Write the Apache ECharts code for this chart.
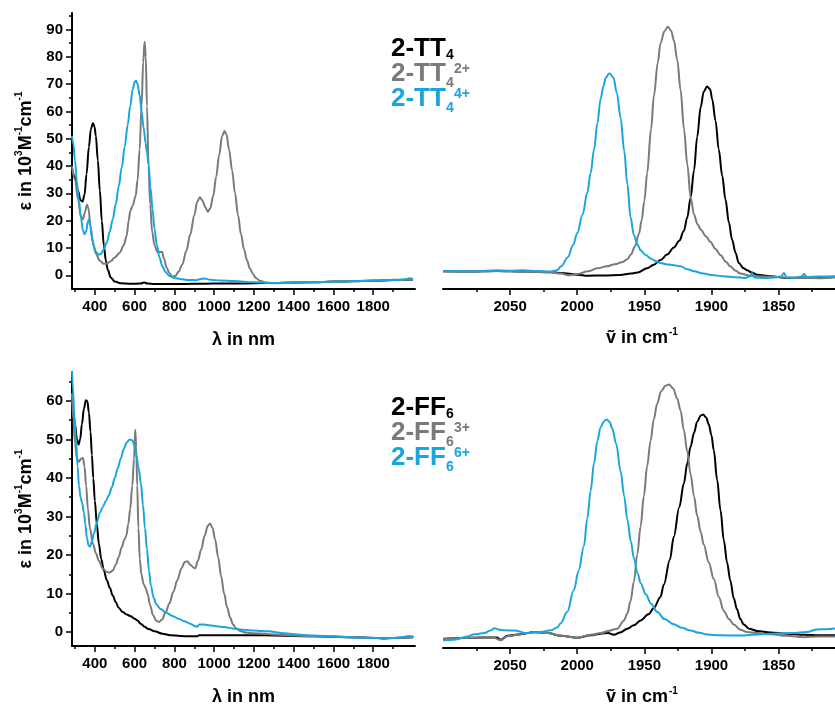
<!DOCTYPE html>
<html><head><meta charset="utf-8">
<script src="https://cdn.jsdelivr.net/npm/echarts@6/dist/echarts.min.js"></script>
<style>html,body{margin:0;padding:0;background:#fff}#c{width:835px;height:707px}</style>
</head><body><div id="c"></div>
<script>
// ---------- DATA ----------
// UV-vis-NIR, 2-TT4 family: [wavelength nm, epsilon 10^3 M^-1 cm^-1]
const tt4_uv = [[285,39],[300,36],[315,31],[328,27.5],[338,27],[348,29.5],[358,37],[370,47],[380,53.5],[390,55.7],[398,54.5],[405,51],[415,42],[425,31],[435,20],[445,11],[455,5.5],[465,2],[480,-0.8],[500,-2.3],[530,-2.9],[580,-3.1],[630,-3],[648,-2.6],[665,-3],[700,-3.2],[800,-3.2],[900,-3.1],[1000,-3],[1100,-3],[1200,-2.9],[1300,-2.8],[1400,-2.65],[1500,-2.5],[1600,-2.3],[1700,-2.15],[1800,-1.95],[1900,-1.75],[2000,-1.5]];
const tt4_2p_uv = [[285,40],[300,35],[315,28],[330,21.5],[340,20.5],[350,23],[360,25.8],[368,24.5],[378,18],[390,12],[405,8],[425,5.3],[445,4.2],[460,4.3],[480,5.2],[500,6.5],[525,8.3],[545,11],[560,14.5],[570,20],[578,23.5],[590,25.5],[605,29],[615,35],[625,46],[635,62],[643,78],[650,85.5],[656,80],[662,62],[670,40],[678,26],[688,16],[700,11],[715,8.5],[728,8.5],[738,8.6],[748,6],[760,3],[775,0.8],[790,-0.5],[805,-0.2],[820,1.2],[840,4],[860,9],[880,15],[900,22],[915,27],[928,28.6],[940,27.5],[955,25],[968,23.3],[980,24.5],[995,29],[1010,36],[1025,44],[1040,51],[1052,52.8],[1062,51.5],[1075,46],[1090,38.5],[1105,30],[1120,22],[1135,15],[1150,9.5],[1165,5.5],[1180,2.5],[1195,0.5],[1210,-1],[1230,-2],[1260,-2.7],[1300,-2.9],[1400,-2.7],[1500,-2.5],[1600,-2.3],[1700,-2.1],[1800,-1.9],[1900,-1.7],[2000,-1.5]];
const tt4_4p_uv = [[285,51],[292,48],[300,42],[310,34],[320,27],[330,21],[340,16.5],[348,15],[356,16],[364,19.5],[370,20.5],[377,18],[385,14],[395,10.5],[405,8.6],[418,7.6],[430,7.8],[445,9.5],[460,12],[475,16],[490,20.5],[505,26],[520,32.5],[535,39.5],[550,47],[565,55],[578,62],[590,68],[600,70.8],[607,71.2],[615,70],[625,66],[635,60],[645,54],[655,48.5],[662,45],[670,40.5],[680,32],[690,24],[700,17],[712,11],[725,6.5],[740,3.2],[755,1.2],[775,-0.2],[800,-1],[830,-1.3],[870,-1.7],[910,-1.8],[930,-1.3],[950,-1.2],[980,-1.6],[1030,-1.9],[1100,-2.1],[1200,-2.5],[1300,-2.8],[1400,-2.6],[1450,-2.55],[1500,-2.45],[1550,-2.4],[1600,-2.25],[1650,-2.25],[1700,-2.05],[1750,-2.05],[1800,-1.85],[1850,-1.85],[1900,-1.65],[1950,-1.5],[1985,-1.1],[2000,-1.4]];

// UV-vis-NIR, 2-FF6 family
const ff6_uv = [[285,60],[292,57],[300,54],[310,50],[318,48.7],[326,50],[335,54],[345,58],[355,60.2],[362,60],[370,57],[378,52],[385,46],[392,40],[400,34],[410,28],[420,23],[432,19],[445,16],[460,13.5],[475,11.5],[490,9.5],[505,7.8],[520,6.3],[540,5.2],[560,4.6],[580,4.1],[600,3.5],[615,3],[630,2.2],[650,1.4],[670,0.8],[700,0.2],[740,-0.4],[780,-0.8],[830,-1.0],[880,-1.1],[915,-1.1],[925,-0.8],[960,-0.8],[1000,-0.8],[1100,-0.8],[1200,-0.8],[1300,-0.85],[1400,-1.0],[1500,-1.1],[1600,-1.2],[1700,-1.35],[1800,-1.5],[1900,-1.5],[2000,-1.3]];
const ff6_3p_uv = [[285,62],[292,55],[300,49],[310,45],[320,44.2],[330,45],[340,45.2],[348,43],[356,38],[365,32],[375,27],[390,23],[405,20.5],[420,18.5],[440,16.5],[460,15.6],[475,15.5],[490,16],[505,17.5],[520,19.5],[535,22],[548,24],[558,25],[568,28],[578,32],[588,38],[597,45],[603,52.5],[608,48],[613,38],[619,27],[626,19],[634,15],[645,12.5],[655,11.5],[665,10],[678,7],[692,4.5],[708,3],[722,2.6],[738,3.3],[755,5],[775,7.5],[795,10.5],[815,13.5],[835,16.5],[852,18.2],[865,18.4],[880,17.5],[895,16.8],[905,16.6],[918,18.5],[935,21.5],[952,25],[968,27.6],[980,28.2],[992,27],[1005,24],[1020,19.5],[1035,14.5],[1050,10],[1065,6.5],[1080,3.8],[1095,2],[1110,1],[1130,0.3],[1160,-0.1],[1200,-0.3],[1300,-0.6],[1400,-0.9],[1500,-1.1],[1600,-1.2],[1700,-1.4],[1800,-1.5],[1900,-1.5],[2000,-1.3]];
const ff6_6p_uv = [[285,68],[290,63],[297,56],[305,50],[313,43],[320,38],[328,35],[336,33.5],[345,31],[352,28],[360,24.5],[368,22.5],[376,22.2],[385,23.5],[395,25.5],[410,28.5],[425,31],[440,32.5],[455,34],[470,35.5],[485,37.5],[500,40],[515,42.5],[530,45],[545,47.5],[560,49.2],[575,50],[588,49.8],[598,48.5],[608,46],[620,42.5],[632,38.5],[642,33],[652,27],[662,21.5],[672,16],[682,12],[695,9],[710,7.2],[730,6],[760,5],[790,4.2],[820,3.5],[850,2.8],[880,2.2],[905,1.5],[915,1.4],[925,2],[945,2],[970,1.8],[1000,1.6],[1050,1.3],[1100,0.9],[1150,0.6],[1200,0.4],[1270,0.2],[1350,-0.3],[1435,-0.7],[1500,-0.9],[1600,-1.1],[1700,-1.3],[1770,-1.5],[1800,-1.45],[1850,-1.8],[1900,-1.5],[1950,-1.3],[1980,-1.0],[2005,-1.2]];

// IR, 2-TT4 family: [wavenumber cm^-1, absorbance (arb.)]
const tt4_ir = [[2100,6.4],[2080,6.3],[2060,6.5],[2040,6.3],[2020,6.2],[2012,5.8],[2000,5.2],[1992,4.8],[1980,4.9],[1968,5.1],[1960,5.6],[1955,6],[1948,7.5],[1943,8.8],[1938,10.5],[1933,12.5],[1928,15],[1924,17.5],[1920.6,21],[1918,26],[1915.6,33],[1913,43],[1910.7,55],[1908,66],[1905.8,71.5],[1903.3,73.4],[1901,72.4],[1899.5,68.8],[1897,61],[1894.6,50.6],[1892,41],[1889.6,32.4],[1887,24],[1884.7,17.9],[1882,13],[1879.7,9.4],[1876,7.5],[1873.5,6.8],[1870,6],[1866,5.2],[1856,4.6],[1844,4.0],[1830,4.2],[1820,4.0],[1808,4.4]];
const tt4_2p_ir = [[2100,6.4],[2080,6.3],[2060,6.5],[2040,6.3],[2020,6.0],[2012,5.6],[2007,5.0],[2000,5.4],[1992,6.4],[1985,7.5],[1978,8.2],[1972,9],[1966,9.8],[1962.7,10.8],[1960,12.5],[1957,15.5],[1954,20],[1952,25],[1950,32],[1947.9,42],[1945,58],[1942.9,70],[1940,82],[1938,89],[1935,93.5],[1932.5,95],[1930,93.5],[1928,90],[1925.5,83],[1923,72],[1920.5,58],[1918,45],[1915.5,33],[1913,27],[1910.5,23.5],[1908,21.5],[1904,19],[1900.8,17],[1897,14.5],[1893.3,12.3],[1889.5,10],[1886,8.2],[1882,6.6],[1878.5,5.6],[1872,4.9],[1866,4.6],[1856,4.4],[1844,4.1],[1830,4.0],[1820,3.9],[1808,4.2]];
const tt4_4p_ir = [[2100,6.4],[2090,6.5],[2075,6.4],[2060,6.8],[2050,6.6],[2040,6.8],[2030,6.5],[2020,6.3],[2015,6.8],[2012,8.2],[2007,11.5],[2003,16],[2000,20.3],[1996,27],[1992.5,34.9],[1990,42],[1987.5,50.6],[1985,60],[1982.6,68.8],[1980.5,73.5],[1978.8,76.5],[1976,78.2],[1973,76.5],[1970.5,71],[1967.7,62],[1965,50],[1962.7,38],[1960.3,26],[1957.8,19.5],[1955,16],[1952.8,14],[1949,12.3],[1945,11],[1941,10],[1938,9.4],[1933,8.9],[1928,8.6],[1923,8.2],[1918,7.2],[1913,6.4],[1906,5.6],[1900,5.1],[1891,4.6],[1883,4.3],[1875,4.0],[1871,4.6],[1869.8,5.8],[1868,4.2],[1860,4.0],[1853,4.2],[1848,4.6],[1846,5.8],[1844,4.2],[1838,4.1],[1833,4.5],[1831,5.4],[1829,4.3],[1820,4.5],[1808,4.6]];

// IR, 2-FF6 family
const ff6_ir = [[2100,3.2],[2085,3.6],[2070,3.8],[2060,3.8],[2057,3.0],[2052,4.4],[2042,5.0],[2032,5.8],[2022,5.4],[2012,4.4],[2000,3.7],[1990,4.6],[1982.6,5.2],[1977,5.4],[1972.7,4.8],[1968,5.6],[1962.7,7],[1957.8,8.2],[1952.8,10],[1947,12.2],[1942.9,14.5],[1938,18.5],[1935.5,23],[1931,32],[1928.1,40.3],[1924,51],[1920.6,59.6],[1918,67],[1915.6,72.9],[1913,78],[1910.7,82],[1908,84.2],[1906.2,84.6],[1904,83.5],[1902,81],[1900,77],[1898.3,71.7],[1895.8,61],[1893.3,49.9],[1890.8,39],[1888.4,31],[1886,24.5],[1883.4,18],[1881,14],[1878.5,10.5],[1876,8.5],[1872,7],[1866,6.2],[1856,5.6],[1844,5.2],[1831,4.8],[1820,4.6],[1808,4.6]];
const ff6_3p_ir = [[2100,3.4],[2085,3.6],[2070,3.8],[2062,3.7],[2057,2.8],[2052,4.3],[2042,5.0],[2032,5.8],[2022,5.4],[2012,4.4],[2000,3.7],[1990,4.8],[1982.6,5.4],[1977,6.2],[1970.2,7.0],[1965.2,10],[1962.7,12.5],[1960.3,17],[1957.8,24],[1955.3,34],[1952.8,44],[1950.4,55],[1947.9,66],[1945.4,75],[1942.9,83],[1940.5,88.5],[1937.5,93],[1934.3,95],[1931.5,95.5],[1928.5,94],[1925.6,90.5],[1923,86],[1920.6,79],[1918,71],[1915.6,63],[1913,55],[1910.7,48],[1908,42],[1905.8,37.5],[1902,31],[1898.3,25],[1894.5,18.5],[1890.9,13.5],[1887,10.5],[1883.4,8.5],[1878.5,6.6],[1873.5,5.8],[1866,5.4],[1856,5.0],[1844,4.4],[1831,3.9],[1820,4.2],[1808,4.2]];
const ff6_6p_ir = [[2100,2.8],[2091.6,3.0],[2081.7,4.2],[2076.7,5.0],[2069.3,5.4],[2064,6.4],[2061.8,7.2],[2058,6.6],[2054.5,6.4],[2047,6.3],[2037,5.4],[2027.2,5.8],[2019.7,6.4],[2015,7.4],[2012.3,9.0],[2007.5,13],[2002.5,21],[1999,28],[1995,37],[1992.5,47],[1990,57],[1987.5,67],[1985,75],[1982.6,80],[1980,82.2],[1978.1,82.8],[1976,82],[1973.9,79.5],[1971,74],[1967.7,64],[1965,55],[1962.7,46.5],[1960,38.5],[1957.8,32.5],[1955,27],[1952.8,23.5],[1949,19.5],[1945,16],[1940.3,13],[1935,10.5],[1928,8.6],[1922,7.3],[1915.6,6.3],[1909,5.5],[1903.2,4.9],[1893.3,4.6],[1878.5,4.5],[1866,4.9],[1853.7,5.2],[1840,5.4],[1828.9,5.8],[1821.5,6.7],[1815,6.8],[1808,7.1]];

// Tick values
const uvMajor = [400,600,800,1000,1200,1400,1600,1800];
const uvMinor = [300,500,700,900,1100,1300,1500,1700,1900];
const irMajor = [2050,2000,1950,1900,1850];
const irMinor = [2075,2025,1975,1925,1875,1825];
const ttYMajor = [0,10,20,30,40,50,60,70,80,90];
const ttYMinor = [5,15,25,35,45,55,65,75,85,95];
const ffYMajor = [0,10,20,30,40,50,60];
const ffYMinor = [5,15,25,35,45,55,65];

const seriesNames = ['2-TT4','2-TT4 2+','2-TT4 4+','2-FF6','2-FF6 3+','2-FF6 6+'];
// ---------- STYLE ----------
const FONT = '"Liberation Sans", Arial, sans-serif';
const C_BLACK = '#000000', C_GRAY = '#7a7a7a', C_BLUE = '#1aa5de';

const chart = echarts.init(document.getElementById('c'), null, {renderer:'canvas'});

const grids = [
  {left:72, top:13, width:343, height:276},
  {left:443, top:13, width:392, height:276},
  {left:72, top:372, width:343, height:276},
  {left:443, top:372, width:392, height:276}
];

const supRich = {
  a:{fontFamily:FONT, fontWeight:'bold', fontSize:18, color:'#000', lineHeight:22, verticalAlign:'bottom'},
  s:{fontFamily:FONT, fontWeight:'bold', fontSize:10, color:'#000', lineHeight:22, verticalAlign:'top', padding:[1,0,0,0]}
};
const plain = v => String(v);

function mainX(gi, uv) {
  return {
    type:'value', gridIndex:gi, position:'bottom',
    min: uv ? 285 : 1808, max: uv ? 2010 : 2100, inverse: !uv,
    axisLine:{show:true, onZero:false, lineStyle:{color:'#000', width:2}},
    axisTick:{show:true, customValues: uv ? uvMajor : irMajor, length:6, lineStyle:{color:'#000', width:1.5}},
    axisLabel:{show:true, customValues: uv ? uvMajor : irMajor, formatter:plain, margin:10, color:'#000', fontFamily:FONT, fontWeight:'bold', fontSize:15},
    splitLine:{show:false},
    name: uv ? '{a|λ in nm}' : '',
    nameLocation:'middle', nameGap:38,
    nameTextStyle:{rich:supRich}
  };
}
function minorX(gi, uv) {
  return {
    type:'value', gridIndex:gi, position:'bottom',
    min: uv ? 285 : 1808, max: uv ? 2010 : 2100, inverse: !uv,
    axisLine:{show:false, onZero:false},
    axisTick:{show:true, customValues: uv ? uvMinor : irMinor, length:3, lineStyle:{color:'#000', width:1.5}},
    axisLabel:{show:false}, splitLine:{show:false}
  };
}
function mainY(gi, min, max, major) {
  return {
    type:'value', gridIndex:gi, position:'left', min, max,
    axisLine:{show:true, onZero:false, lineStyle:{color:'#000', width:2}},
    axisTick:{show:true, customValues:major, length:6, lineStyle:{color:'#000', width:1.5}},
    axisLabel:{show:true, customValues:major, formatter:plain, margin:9, color:'#000', fontFamily:FONT, fontWeight:'bold', fontSize:15},
    splitLine:{show:false},
    name:'{a|ε in 10}{s|3}{a|M}{s|-1}{a|cm}{s|-1}',
    nameLocation:'middle', nameGap:37, nameRotate:90,
    nameTextStyle:{rich:supRich}
  };
}
function minorY(gi, min, max, minor) {
  return {
    type:'value', gridIndex:gi, position:'left', min, max,
    axisLine:{show:false, onZero:false},
    axisTick:{show:true, customValues:minor, length:3, lineStyle:{color:'#000', width:1.5}},
    axisLabel:{show:false}, splitLine:{show:false}
  };
}
function hiddenY(gi) {
  return {type:'value', gridIndex:gi, min:0, max:100, show:false, splitLine:{show:false}};
}

const xAxis = [mainX(0,true), minorX(0,true), mainX(1,false), minorX(1,false), mainX(2,true), minorX(2,true), mainX(3,false), minorX(3,false)];
const yAxis = [mainY(0,-5,96,ttYMajor), minorY(0,-5,96,ttYMinor), hiddenY(1), mainY(2,-3.6,67.5,ffYMajor), minorY(2,-3.6,67.5,ffYMinor), hiddenY(3)];

function line(name, data, color, xi, yi) {
  return {type:'line', name, data, xAxisIndex:xi, yAxisIndex:yi, showSymbol:false, symbol:'none',
    smooth:0.35, smoothMonotone:'x', clip:true, animation:false,
    lineStyle:{color, width:2}, itemStyle:{color}, z:3};
}

const series = [
  line(seriesNames[0], tt4_uv, C_BLACK, 0, 0),
  line(seriesNames[1], tt4_2p_uv, C_GRAY, 0, 0),
  line(seriesNames[2], tt4_4p_uv, C_BLUE, 0, 0),
  line(seriesNames[0], tt4_ir, C_BLACK, 2, 2),
  line(seriesNames[1], tt4_2p_ir, C_GRAY, 2, 2),
  line(seriesNames[2], tt4_4p_ir, C_BLUE, 2, 2),
  line(seriesNames[3], ff6_uv, C_BLACK, 4, 3),
  line(seriesNames[4], ff6_3p_uv, C_GRAY, 4, 3),
  line(seriesNames[5], ff6_6p_uv, C_BLUE, 4, 3),
  line(seriesNames[3], ff6_ir, C_BLACK, 6, 5),
  line(seriesNames[4], ff6_3p_ir, C_GRAY, 6, 5),
  line(seriesNames[5], ff6_6p_ir, C_BLUE, 6, 5)
];

// legend-like labels and IR axis titles
function lbl(x, y, text, size, color, align) {
  return {type:'text', x, y, z:10, style:{text, fill:color, font:'bold '+size+'px '+FONT, align:align || 'left', verticalAlign:'middle'}};
}
function block(x0, yc, base, sub, sup, color) {
  const els = [lbl(x0, yc, base, 26, color), lbl(x0 + 55, yc + (sup ? 9 : 6), sub, 14, color)];
  if (sup) els.push(lbl(x0 + 63, yc - 5, sup, 14, color));
  return els;
}
function irTitle(yc) {
  return [lbl(668, yc, 'ṽ in cm', 18, '#000', 'right'), lbl(669, yc - 6, '-1', 10, '#000', 'left')];
}
const graphics = [].concat(
  block(391, 49, '2-TT', '4', null, C_BLACK),
  block(391, 74, '2-TT', '4', '2+', C_GRAY),
  block(391, 99, '2-TT', '4', '4+', C_BLUE),
  block(391, 408, '2-FF', '6', null, C_BLACK),
  block(391, 433, '2-FF', '6', '3+', C_GRAY),
  block(391, 458, '2-FF', '6', '6+', C_BLUE),
  irTitle(338),
  irTitle(697)
);

chart.setOption({
  animation:false,
  backgroundColor:'#fff',
  grid: grids,
  xAxis, yAxis, series,
  graphic: graphics
});
</script>
</body></html>
